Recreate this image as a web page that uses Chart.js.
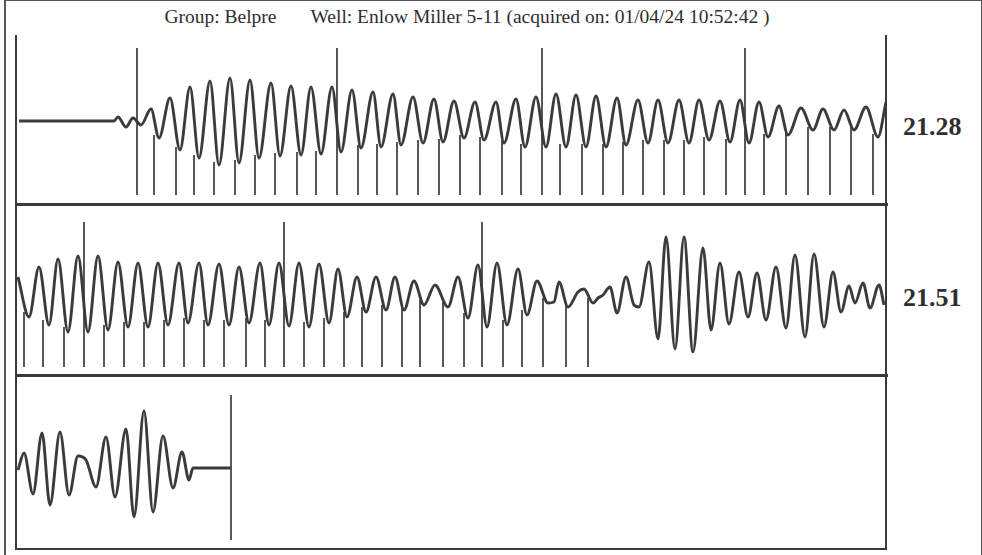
<!DOCTYPE html>
<html>
<head>
<meta charset="utf-8">
<script src="https://cdn.jsdelivr.net/npm/chart.js@4.4.0/dist/chart.umd.min.js"></script>
<style>
body{margin:0;background:#fff;}
#page{position:relative;width:982px;height:555px;overflow:hidden;font-family:"Liberation Serif","Times New Roman",serif;color:#333;}
.title{position:absolute;left:0;top:6px;width:934px;text-align:center;font-size:19.5px;white-space:nowrap;color:#2e2e2e;}
.title span{margin-left:34px;}
.val{position:absolute;left:903px;font-size:26px;font-weight:bold;color:#2f2f2f;}
.frame{position:absolute;left:15px;top:35px;width:868px;height:513px;border:solid #3a3a3a;border-width:0 2.5px 2.5px 2.5px;}
.hline{position:absolute;left:15px;width:873px;height:2.5px;background:#3a3a3a;}
.outer{position:absolute;left:4px;top:0;width:975px;height:560px;border:solid #555;border-width:1.5px 1.5px 0 2.5px;}
canvas{position:absolute;left:17px;}
</style>
</head>
<body>
<div id="page">
<div class="outer"></div>
<div class="title">Group: Belpre<span>Well: Enlow Miller 5-11 (acquired on: 01/04/24 10:52:42 )</span></div>
<div class="frame"></div>
<div class="hline" style="top:203px"></div>
<div class="hline" style="top:374px"></div>
<canvas id="panel1" width="868" height="169" style="top:35px"></canvas>
<canvas id="panel2" width="868" height="171" style="top:204px"></canvas>
<canvas id="panel3" width="868" height="175" style="top:375px"></canvas>
<div class="val" style="top:112px">21.28</div>
<div class="val" style="top:283px">21.51</div>
</div>
<script>

// panel 1 - shot trace (samples, amplitude)
let times1 = [2,97,101,109,116,124,134,142,153,163,
173,182,193,202,213,222,233,242,254,263,
274,284,294,304,315,324,335,344,356,364,
376,384,396,406,417,426,437,447,458,467,
479,487,499,508,519,529,539,549,559,569,
579,589,600,609,621,631,641,651,662,672,
682,692,703,713,723,732,742,751,762,771,
784,796,806,817,827,837,849,861,869]
let amps1 = [0,0,4,-6,3,-4,12,-17,23,-29,
34,-37,40,-44,43,-42,41,-37,38,-35,
35,-34,34,-33,34,-31,31,-27,29,-26,
27,-24,24,-22,22,-21,20,-17,19,-19,
19,-22,22,-26,24,-26,27,-26,26,-26,
25,-26,23,-24,21,-22,21,-22,21,-22,
21,-19,20,-21,21,-22,19,-16,15,-14,
13,-9,12,-9,11,-9,14,-16,19]
let tickTimes1 = [120,137,159,177,197,218,238,258,280,299,320,341,360,380,401,422,443,463,485,504,525,543,565,586,606,626,647,667,687,709,728,747,769,791,813,834,856]
let tickTops1 = [73,-14,-26,-34,-41,-39,-34,-32,-31,-30,73,-24,-23,-21,-19,-18,-14,-16,-19,-23,73,-23,-23,-23,-21,-19,-19,-19,-16,-18,73,-13,-11,-6,-6,-6,-13]

// panel 2
let times2 = [1,12,22,32,41,51,61,71,81,91,
101,111,121,131,141,151,162,171,182,191,
202,212,222,232,243,252,262,272,282,292,
302,312,321,330,340,349,359,369,378,387,
397,407,418,431,441,451,461,470,480,490,
501,510,520,531,537,542,551,561,567,576,
581,586,593,600,609,617,622,632,641,649,
658,667,676,686,694,703,712,722,731,740,
749,759,769,778,788,797,807,816,824,832,
838,846,853,862,867]
let amps2 = [13,-27,23,-35,31,-42,34,-42,34,-40,
28,-37,27,-37,27,-35,27,-33,27,-35,
26,-35,23,-33,27,-35,27,-36,27,-37,
26,-33,21,-27,13,-22,13,-20,13,-20,
9,-15,5,-17,13,-28,25,-37,27,-35,
21,-25,9,-13,-12,8,-17,-2,1,-13,
-8,-5,3,-23,13,-15,-17,28,-49,53,
-59,53,-62,42,-40,27,-34,18,-27,17,
-30,23,-38,35,-47,36,-37,18,-22,4,
-13,7,-18,5,-15]
let tickTimes2 = [7,26,47,67,87,107,127,147,167,187,207,229,248,267,287,307,327,345,365,385,403,426,447,465,486,505,526,549,571]
let tickTops2 = [-22,-30,-37,68,-35,-32,-32,-30,-28,-30,-30,-28,-30,68,-32,-28,-22,-17,-15,-15,-10,-12,-23,68,-30,-20,-8,-12,-8]

// panel 3
let times3 = [1,7,16,25,33,43,52,61,69,79,
89,98,109,117,127,136,146,156,165,172,
176,214]
let amps3 = [-2,15,-26,35,-37,36,-27,12,8,-19,
31,-29,39,-49,57,-44,32,-20,16,-12,
0,0]
let tickTimes3 = [214]
let tickTops3 = [73]

let ink = "#3b3b3b"

function toPoints(xs, ys){
let pts = []
xs.forEach((x,i)=>{
pts.push({x:x, y:ys[i]})
})
return pts
}

function tickPoints(xs, tops, floor){
let pts = []
xs.forEach((x,i)=>{
pts.push({x:x, y:floor})
pts.push({x:x, y:tops[i]})
pts.push({x:x, y:null})
})
return pts
}

function makePanel(id, xs, ys, tx, tt, floor, ymin, ymax){

new Chart(document.getElementById(id),{

type:"line",

data:{
datasets:[
{
data:toPoints(xs, ys),
borderColor:ink,
borderWidth:2.9,
cubicInterpolationMode:"monotone",
pointRadius:0
},
{
data:tickPoints(tx, tt, floor),
borderColor:ink,
borderWidth:1.7,
tension:0,
spanGaps:false,
pointRadius:0
}
]
},

options:{
responsive:false,
devicePixelRatio:1,
animation:false,
layout:{padding:0},
plugins:{legend:{display:false},tooltip:{enabled:false}},
scales:{
x:{type:"linear",min:0,max:868,display:false},
y:{min:ymin,max:ymax,display:false}
}
}

})

}

makePanel("panel1", times1, amps1, tickTimes1, tickTops1, -74, -83, 86)
makePanel("panel2", times2, amps2, tickTimes2, tickTops2, -77, -85, 86)
makePanel("panel3", times3, amps3, tickTimes3, tickTops3, -72, -82, 93)

</script>
</body>
</html>
